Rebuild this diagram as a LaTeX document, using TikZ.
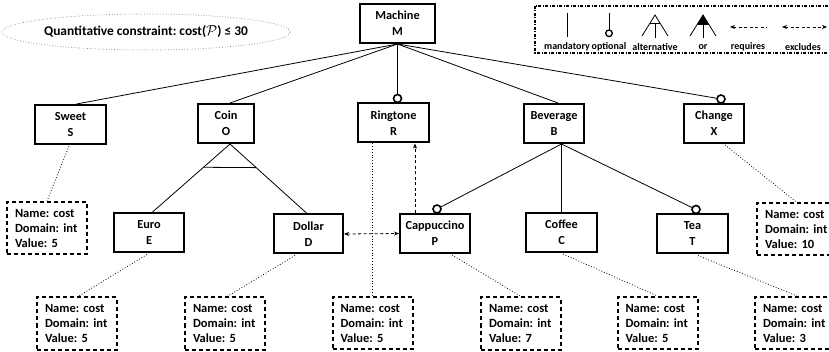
\documentclass[tikz,border=0pt]{standalone}
\usepackage{fontspec}
\setmainfont{Carlito}
\frenchspacing
\usetikzlibrary{arrows.meta,shapes.geometric,calc}
\begin{document}
\frenchspacing
\begin{tikzpicture}[x=1pt,y=-1pt,
  feat/.style={draw,line width=2pt,minimum height=39pt,align=center,inner sep=0pt,
    font=\bfseries\fontsize{12.3}{16}\selectfont},
  attr/.style={draw,line width=2pt,dash pattern=on 4pt off 3pt,minimum height=52pt,
    text width=64pt,inner xsep=8pt,align=left,font=\bfseries\fontsize{12.5}{15}\selectfont},
  conn/.style={line width=0.8pt},
  dot/.style={line width=0.8pt,dotted},
  optc/.style={line width=1.6pt,fill=white},
  lgtext/.style={font=\bfseries\fontsize{10}{12}\selectfont,inner sep=0pt},
  arr/.style={line width=0.8pt,dash pattern=on 3pt off 2.5pt}
]
\useasboundingbox (0,0) rectangle (829,352);

% constraint ellipse
\node[ellipse,draw=gray,dotted,line width=0.7pt,minimum width=226pt,minimum height=36pt,inner sep=0pt,
  font=\bfseries\fontsize{13.4}{15}\selectfont] (qc) at (146,32)
  {Quantitative constraint: cost($\mathcal{P}$) ≤ 30};

% legend
\draw[line width=1.3pt,dash pattern=on 3pt off 1.5pt on 1pt off 1.5pt] (535,6) rectangle (834,53);
\node[lgtext] (l1) at (567,47) {mandatory};
\node[lgtext] (l2) at (609,47) {optional};
\node[lgtext] (l3) at (655,47) {alternative};
\node[lgtext] (l4) at (703,47) {or};
\node[lgtext] (l5) at (748,47) {requires};
\node[lgtext] (l6) at (803,47) {excludes};
\draw[conn] (567,13) -- (567,37);
\draw[conn] (609,13) -- (609,30);
\draw[optc,line width=1.3pt] (609,33.3) circle (3.3pt);
\draw[conn] (642,36) -- (655,15) -- (668,36);
\draw[conn] (655,23) -- (655,38);
\draw[conn] (650,23) -- (660,23);
\fill (703,15) -- (697,25) -- (709,25) -- cycle;
\draw[conn] (690,36) -- (703,15) -- (716,36);
\draw[conn] (703,24) -- (703,38);
\draw[arr,{Stealth[length=5pt,width=4pt]}-] (730,27) -- (767,27);
\draw[arr,{Stealth[length=5pt,width=4pt]}-{Stealth[length=5pt,width=4pt]}] (782,27) -- (827,27);

% features
\node[feat,minimum width=75pt] (M) at (397.5,23.5) {Machine\\M};
\node[feat,minimum width=71pt] (S) at (70.5,124.5) {Sweet\\S};
\node[feat,minimum width=56pt] (O) at (226,123.5) {Coin\\O};
\node[feat,minimum width=71pt] (R) at (393.5,123) {Ringtone\\R};
\node[feat,minimum width=60pt] (B) at (554,123.5) {Beverage\\B};
\node[feat,minimum width=60pt] (X) at (714,123.5) {Change\\X};
\node[feat,minimum width=70pt] (E) at (149,233) {Euro\\E};
\node[feat,minimum width=69pt] (D) at (308.5,234) {Dollar\\D};
\node[feat,minimum width=70pt] (P) at (435,233.5) {Cappuccino\\P};
\node[feat,minimum width=71pt] (C) at (561.5,232.5) {Coffee\\C};
\node[feat,minimum width=71pt] (T) at (692.5,234) {Tea\\T};

% attributes
\node[attr] (aS) at (47,228) {Name: cost\\Domain: int\\Value: 5};
\node[attr] (aE) at (77,323.5) {Name: cost\\Domain: int\\Value: 5};
\node[attr] (aD) at (225,323.5) {Name: cost\\Domain: int\\Value: 5};
\node[attr] (aR) at (372.5,323) {Name: cost\\Domain: int\\Value: 5};
\node[attr] (aP) at (521,323.5) {Name: cost\\Domain: int\\Value: 7};
\node[attr] (aC) at (657.5,323) {Name: cost\\Domain: int\\Value: 5};
\node[attr] (aT) at (795,323) {Name: cost\\Domain: int\\Value: 3};
\node[attr] (aX) at (797,229.5) {Name: cost\\Domain: int\\Value: 10};

% tree from Machine
\draw[conn] (M.south) -- ($(S.north)+(6,0)$);
\draw[conn] (M.south) -- ($(O.north)+(4,0)$);
\draw[conn] (M.south) -- ($(B.north)+(4,0)$);
\coordinate (cR) at ($(M.south |- R.north)+(0,-4)$);
\draw[conn] (M.south) -- (cR);
\draw[optc] (cR) circle (4pt);
\coordinate (cX) at ($(X.north)+(7,-4)$);
\draw[conn] (M.south) -- (cX);
\draw[optc] (cX) circle (4pt);

% Coin alternative group
\coordinate (bO) at ($(O.south)+(4,0)$);
\draw[conn] (bO) -- ($(E.north)+(3,0)$);
\draw[conn] (bO) -- ($(D.north)+(-1.5,0)$);
\draw[conn] ($(bO)!0.34!($(E.north)+(3,0)$)$) -- ($(bO)!0.34!($(D.north)+(-1.5,0)$)$);

% Beverage children
\coordinate (bB) at (C.north |- B.south);
\draw[conn] (bB) -- (C.north);
\coordinate (cP) at ($(P.north)+(2,-4)$);
\draw[conn] (bB) -- (cP);
\draw[optc] (cP) circle (4pt);
\coordinate (cT) at ($(T.north)+(3.5,-4)$);
\draw[conn] (bB) -- (cT);
\draw[optc] (cT) circle (4pt);

% cross-tree constraints
\coordinate (rq) at ($(P.north west)+(16,0)$);
\draw[arr,-{Stealth[length=5pt,width=4pt]}] (rq) -- (rq |- R.south);
\draw[arr,{Stealth[length=5pt,width=4pt]}-{Stealth[length=5pt,width=4pt]}] (D.east) -- (P.west);

% attribute links
\draw[dot] ($(S.south)+(-1.5,1)$) -- (aS.north);
\draw[dot] ($(E.south)+(-2,1)$) -- ($(aE.north)+(1,0)$);
\draw[dot] ($(D.south)+(-13.5,1)$) -- ($(aD.north)+(2,0)$);
\draw[dot] (aR.north |- R.south) -- (aR.north);
\draw[dot] ($(P.south)+(17,1)$) -- (aP.north);
\draw[dot] ($(C.south)+(1.5,1)$) -- (aC.north);
\draw[dot] ($(T.south)+(5.5,1)$) -- ($(aT.north)+(2,0)$);
\draw[dot] ($(X.south)+(11,1)$) -- (aX.north);
\end{tikzpicture}
\end{document}
